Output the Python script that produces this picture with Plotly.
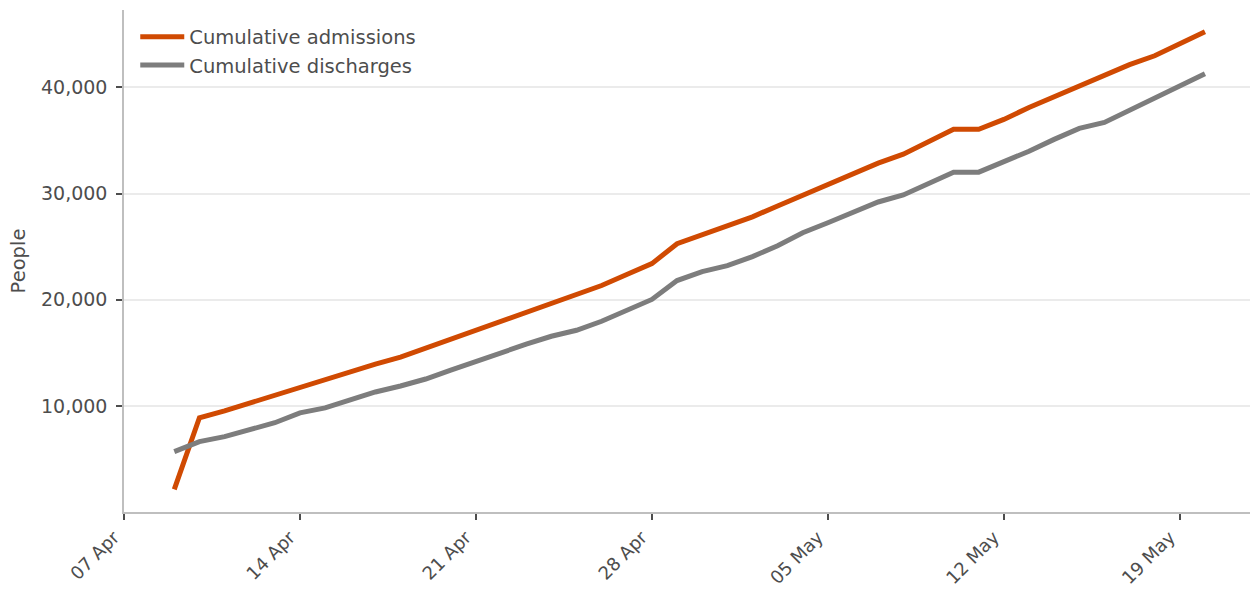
import plotly.graph_objects as go
import pandas as pd

dates = pd.date_range("2020-04-09", "2020-05-20", freq="D").strftime("%Y-%m-%d").tolist()

admissions = [2130, 8880, 9530, 10280, 11030, 11690, 12440, 13190, 13930, 14600,
              15440, 16280, 17130, 17970, 18810, 19660, 20400, 21340, 22370, 23400,
              25280, 26120, 26960, 27810, 28840, 29870, 30900, 31930, 32870, 33710,
              34930, 36060, 36060, 36990, 38120, 39150, 40180, 41120, 42150, 42990,
              44110, 45240]

discharges = [5690, 6630, 7100, 7750, 8410, 9340, 9810, 10560, 11310, 11870,
              12530, 13370, 14220, 14970, 15810, 16560, 17120, 17970, 19000, 20030,
              21810, 22650, 23220, 24060, 25090, 26310, 27250, 28280, 29210, 29870,
              30990, 32020, 32020, 32960, 33990, 35110, 36140, 36700, 37830, 39050,
              40180, 41300]

x_ticks = ["2020-04-07", "2020-04-14", "2020-04-21", "2020-04-28", "2020-05-05", "2020-05-12", "2020-05-19"]
x_tick_labels = ["07 Apr", "14 Apr", "21 Apr", "28 Apr", "05 May", "12 May", "19 May"]
y_ticks = [10000, 20000, 30000, 40000]
y_tick_labels = ["10,000", "20,000", "30,000", "40,000"]

FONT = "DejaVu Sans"
TXT = "#4d4d4d"

fig = go.Figure()
fig.add_trace(go.Scatter(x=dates, y=admissions, mode="lines", name="Cumulative admissions",
                         line=dict(color="#d04a02", width=5)))
fig.add_trace(go.Scatter(x=dates, y=discharges, mode="lines", name="Cumulative discharges",
                         line=dict(color="#7d7d7d", width=5)))

fig.update_layout(
    width=1251, height=589,
    margin=dict(l=124, r=1, t=10, b=77, autoexpand=False),
    paper_bgcolor="white", plot_bgcolor="white",
    font=dict(family=FONT, size=19, color=TXT),
    showlegend=True,
    legend=dict(x=0.010, y=0.985, xanchor="left", yanchor="top",
                bgcolor="rgba(0,0,0,0)", font=dict(family=FONT, size=19.5, color=TXT),
                itemwidth=44, tracegroupgap=0),
    xaxis=dict(
        type="date", automargin=False,
        range=["2020-04-07", "2020-05-21 19:00"],
        tickmode="array", tickvals=x_ticks, ticktext=x_tick_labels,
        tickangle=-45, ticks="outside", ticklen=6, tickwidth=1.5, tickcolor=TXT,
        ticklabelshift=-10, ticklabelstandoff=0,
        showline=True, linecolor="#bfbfbf", linewidth=1.5,
        showgrid=False, zeroline=False,
        tickfont=dict(family=FONT, size=18, color=TXT),
    ),
    yaxis=dict(
        automargin=False,
        range=[0, 47300],
        tickmode="array", tickvals=y_ticks, ticktext=y_tick_labels,
        ticks="outside", ticklen=6, tickwidth=1.5, tickcolor=TXT,
        ticklabelstandoff=5,
        showline=True, linecolor="#bfbfbf", linewidth=1.5,
        showgrid=True, gridcolor="#ebebeb", gridwidth=1.5,
        zeroline=False,
        tickfont=dict(family=FONT, size=19, color=TXT),
        title=dict(text="People", font=dict(family=FONT, size=19.5, color=TXT), standoff=10),
    ),
)

fig.write_html("out.html", config={"displayModeBar": False},
               post_script="document.body.style.margin='0';document.body.style.overflow='hidden';")
